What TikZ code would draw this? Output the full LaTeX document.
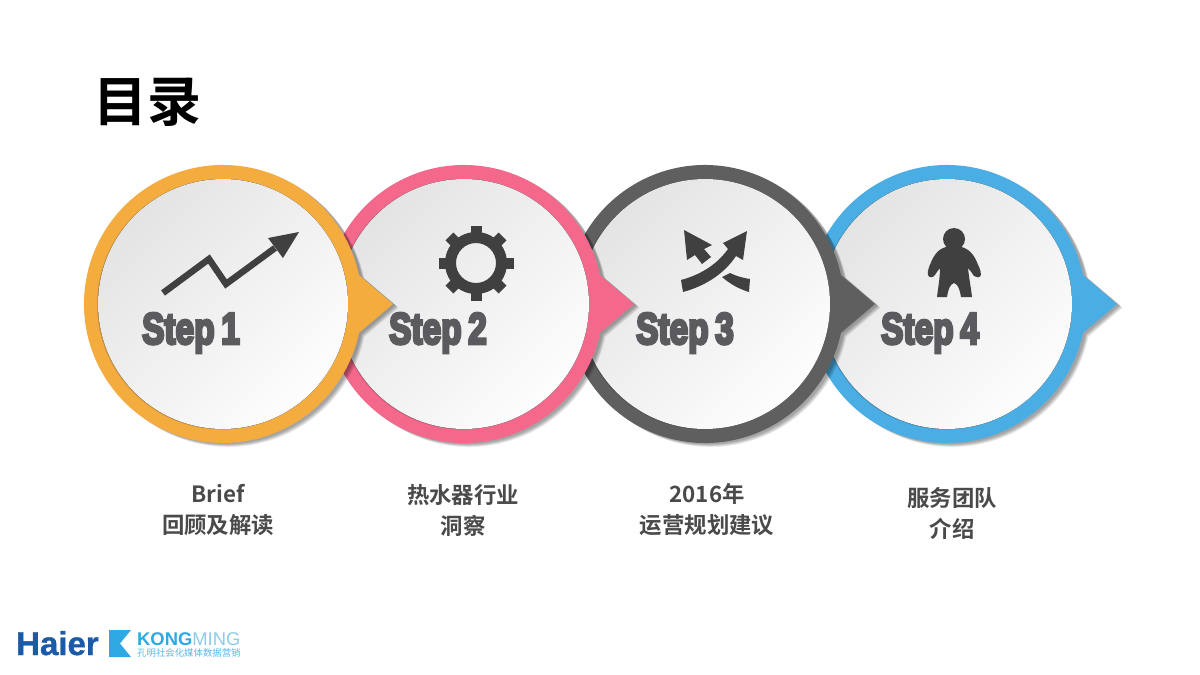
\documentclass[tikz,border=0pt]{standalone}
\usepackage{fontspec}
\setmainfont{Liberation Sans}
\newfontfamily\cjk{Noto Sans CJK SC}
\newfontfamily\cjkb{Noto Sans CJK SC Bold}
\newfontfamily\stepfont[FakeBold=7]{Liberation Sans Bold}
\newfontfamily\haierfont[FakeBold=1]{Liberation Sans Bold}
\usetikzlibrary{shadings}
\definecolor{cOrange}{HTML}{F4AC3F}
\definecolor{cPink}{HTML}{F4688C}
\definecolor{cGrey}{HTML}{5F5F5F}
\definecolor{cBlue}{HTML}{4AADE3}
\definecolor{cIcon}{HTML}{404040}
\definecolor{cStep}{HTML}{5A5A5F}
\definecolor{cLabel}{HTML}{4A4A4A}
\definecolor{cHaier}{HTML}{1B5AA6}
\definecolor{cKong}{HTML}{2FA9E3}
\definecolor{cMing}{HTML}{8CCBEA}
\definecolor{cDiscA}{HTML}{E4E4E4}
\definecolor{cDiscB}{HTML}{FDFDFD}
\tikzset{
  steptext/.style={font=\stepfont\fontsize{44}{44}\selectfont,text=cStep,xscale=0.76,inner sep=0},
  caption/.style={font=\cjkb\fontsize{22.4}{31}\selectfont,text=cLabel,align=center,inner sep=0},
  iconfill/.style={fill=cIcon,draw=none},
}
% #1 x centre, #2 colour
\newcommand{\bubblepath}[1]{(#1,304)++(12:139) arc[start angle=12,end angle=348,radius=139] -- (#1+170,304) -- cycle}
\newcommand{\bubble}[2]{%
  \foreach \s in {7,6,5,4,3,2,1}{
    \fill[black,opacity=0.06,shift={(2+0.5*\s,0.5+0.5*\s)}] \bubblepath{#1};
  }
  \fill[#2] \bubblepath{#1};
  \fill[black,opacity=0.14] (#1-1,304.5) circle[radius=125];
  \fill[top color=cDiscA,bottom color=cDiscB,shading angle=45] (#1,304) circle[radius=125];
}
\begin{document}
\begin{tikzpicture}[x=1pt,y=-1pt]
\useasboundingbox (0,0) rectangle (1200,675);
\fill[white] (0,0) rectangle (1200,675);

\node[font=\cjkb\fontsize{54}{54}\selectfont,text=black,inner sep=0] (title) at (147,102) {目录};

\bubble{947}{cBlue}
\bubble{705}{cGrey}
\bubble{464}{cPink}
\bubble{223}{cOrange}

\node[steptext] (s1) at (191,333) {Step\hspace{-0.08em} 1};
\node[steptext] (s2) at (438,333) {Step\hspace{-0.08em} 2};
\node[steptext] (s3) at (685,333) {Step\hspace{-0.08em} 3};
\node[steptext] (s4) at (930,333) {Step\hspace{-0.08em} 4};

% zigzag arrow
\draw[cIcon,line width=6.5,miter limit=10] (163,293) -- (209,259) -- (226,284) -- (275,248);
\fill[iconfill] (299,232) -- (268,238) -- (283,258) -- cycle;

% gear
\begin{scope}[shift={(476,263)}]
  \foreach \a in {0,45,...,315}{
    \fill[iconfill,rotate=\a] (-5.5,-25) rectangle (5.5,-37.5);
  }
  \fill[iconfill,even odd rule] (0,0) circle[radius=31] (0,0) circle[radius=20];
\end{scope}

% crossing arrows
\fill[iconfill] (681,280) .. controls (703,274) and (718,263) .. (728,249)
  -- (723,243) -- (747,231) -- (743,260) -- (736,256)
  .. controls (724,274) and (705,286) .. (683,292) -- cycle;
\fill[iconfill] (684,230) -- (712,245) -- (704,249) -- (711,257) -- (702,264) -- (695,255) -- (687,260) -- cycle;
\fill[iconfill] (730,273) .. controls (736,276) and (743,278) .. (750,279)
  -- (749,292) .. controls (739,289) and (730,284) .. (722,277) -- cycle;

% person
\fill[iconfill] (954,239) circle[radius=11];
\fill[iconfill] (954,246) .. controls (941,246) and (936,252) .. (932,260)
  .. controls (930,265) and (927,270) .. (928,275)
  .. controls (929,278) and (933,278) .. (935,275)
  .. controls (937,272) and (938,270) .. (940,268)
  .. controls (940,278) and (938,288) .. (937,297)
  -- (947,297) .. controls (948,290) and (950,284) .. (954,283)
  .. controls (958,284) and (960,290) .. (961,297)
  -- (972,297) .. controls (971,288) and (969,278) .. (968,268)
  .. controls (970,270) and (972,273) .. (974,276)
  .. controls (976,278) and (980,278) .. (981,275)
  .. controls (981,270) and (978,265) .. (976,260)
  .. controls (972,252) and (966,246) .. (954,246) -- cycle;

% captions
\node[caption] (c1) at (218,510) {Brief\\回顾及解读};
\node[caption] (c2) at (463,510) {热水器行业\\洞察};
\node[caption] (c3) at (707,510) {2016年\\运营规划建议};
\node[caption] (c4) at (952,513) {服务团队\\介绍};

% logos
\node[anchor=base west,inner sep=0,font=\haierfont\fontsize{33}{33}\selectfont,text=cHaier] (haier) at (16,655) {Haier};
\fill[cKong] (109,630) -- (131,630) -- (120,643.5) -- (131,657) -- (109,657) -- cycle;
\node[anchor=base west,inner sep=0,font=\fontsize{18.4}{18.4}\selectfont] (kong) at (137,645) {\textcolor{cKong}{\textbf{KONG}}\textcolor{cMing}{MING}};
\node[anchor=base west,inner sep=0,font=\cjk\fontsize{9.4}{9.4}\selectfont,text=cKong!80] (kongsub) at (137,656) {孔明社会化媒体数据营销};
\end{tikzpicture}
\end{document}
